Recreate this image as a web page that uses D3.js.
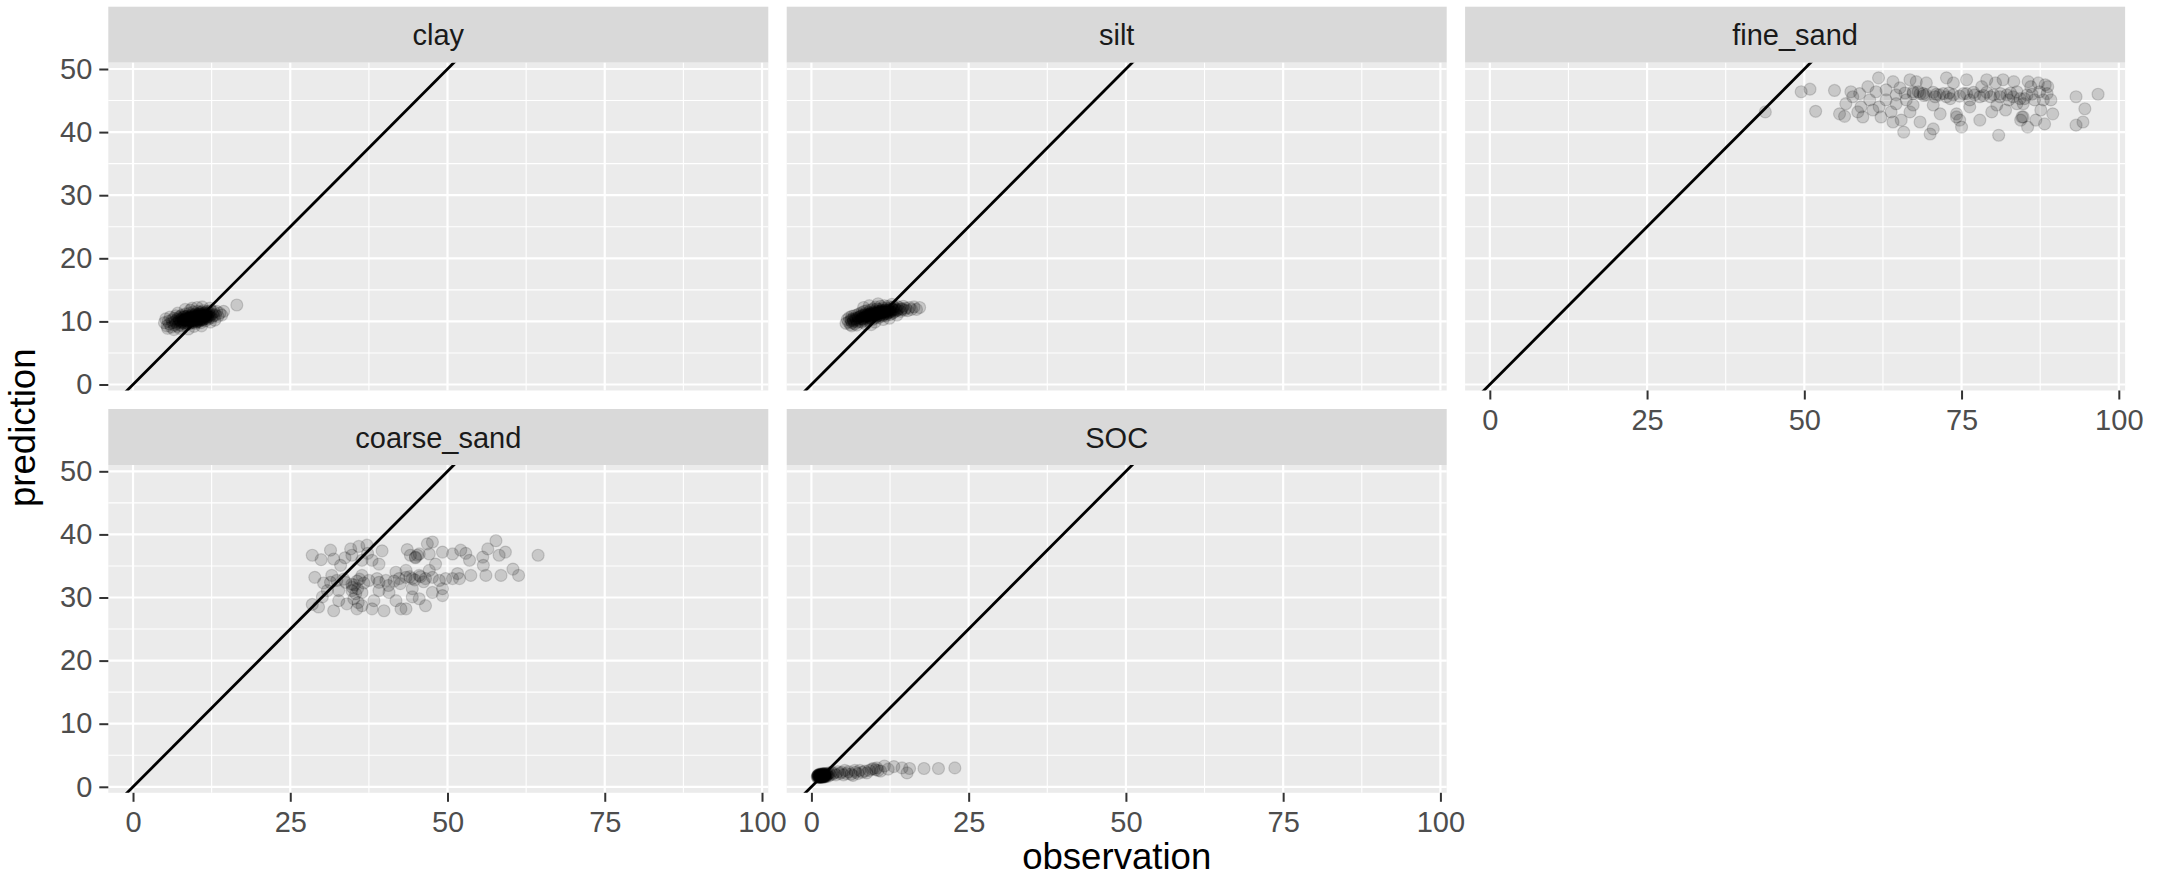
<!DOCTYPE html>
<html>
<head>
<meta charset="utf-8">
<script src="https://cdn.jsdelivr.net/npm/d3@7"></script>
<style>
  body { margin: 0; background: #fff; }
  svg { display: block; font-family: "Liberation Sans", Arial, sans-serif; }
</style>
</head>
<body>
<div id="chart"></div>
<script>
// facet order as in facet_wrap (3 columns)
const facets = ["clay", "silt", "fine_sand", "coarse_sand", "SOC"]

// [observation, prediction] pairs
const clay = [
  [5.0,9.8],[5.2,10.4],[5.4,9.3],[5.6,10.0],[5.8,9.6],[5.9,10.7],[6.1,9.1],[6.2,10.2],[6.3,9.8],[6.5,10.5],
  [6.6,9.4],[6.7,10.0],[6.8,10.9],[6.9,9.7],[7.0,10.3],[7.1,9.2],[7.2,9.9],[7.2,10.6],[7.3,10.1],[7.4,9.5],
  [7.5,10.8],[7.5,10.2],[7.6,9.8],[7.7,10.4],[7.8,9.3],[7.8,11.0],[7.9,10.0],[8.0,10.6],[8.0,9.7],[8.1,10.2],
  [8.2,9.9],[8.2,10.8],[8.3,10.4],[8.4,9.5],[8.4,11.2],[8.5,10.1],[8.5,10.6],[8.6,9.8],[8.7,10.3],[8.7,10.9],
  [8.8,9.6],[8.8,10.5],[8.9,10.0],[9.0,10.7],[9.0,11.3],[9.1,10.2],[9.1,9.7],[9.2,10.5],[9.3,10.9],[9.3,10.0],
  [9.4,10.4],[9.4,11.1],[9.5,9.8],[9.5,10.6],[9.6,10.2],[9.6,11.5],[9.7,10.8],[9.7,10.0],[9.8,10.4],[9.8,11.0],
  [9.9,9.7],[9.9,10.6],[10.0,10.2],[10.0,11.2],[10.1,10.8],[10.1,10.4],[10.2,9.9],[10.2,11.0],[10.3,10.5],[10.3,11.6],
  [10.4,10.2],[10.4,10.8],[10.5,11.2],[10.5,10.0],[10.6,10.6],[10.6,11.4],[10.7,10.3],[10.7,10.9],[10.8,11.1],[10.8,9.8],
  [10.9,10.6],[10.9,11.5],[11.0,10.2],[11.0,10.9],[11.1,11.3],[11.1,10.5],[11.2,10.8],[11.2,11.7],[11.3,10.4],[11.3,11.1],
  [11.4,10.7],[11.5,11.4],[11.5,10.1],[11.6,10.9],[11.7,11.2],[11.7,10.5],[11.8,11.6],[11.9,10.8],[12.0,11.1],[12.0,10.4],
  [12.1,11.4],[12.2,10.7],[12.3,11.0],[12.4,11.7],[12.5,10.6],[12.6,11.2],[12.8,10.9],[12.9,11.5],[13.1,11.0],[13.3,11.6],
  [13.5,10.8],[13.8,11.3],[14.1,11.0],[14.4,11.6],[16.5,12.6],[9.4,12.1],[8.3,11.9],[11.0,12.3],[10.2,12.2],[12.2,12.1],
  [7.4,8.9],[8.8,8.8],[6.5,8.7],[9.7,9.2],[10.9,9.3],[12.3,9.9],[7.1,11.3],[9.1,11.8],[5.5,8.9],[13.0,10.2],
  [7.3,10.4],[7.6,10.0],[7.9,10.7],[8.1,9.8],[8.3,10.2],[8.5,10.8],[8.6,10.4],[8.9,10.6],[9.0,9.9],[9.2,10.3],
  [9.3,10.7],[9.5,10.2],[9.6,10.9],[9.7,10.5],[9.9,10.1],[10.0,10.7],[10.1,10.0],[10.2,10.6],[10.3,10.2],[10.4,11.1],
  [10.5,10.5],[10.6,10.1],[10.7,10.8],[10.8,10.4],[10.9,11.1],[11.0,10.5],[11.1,10.9],[11.2,10.3],[11.3,10.8],[11.4,11.3],
  [11.6,10.6],[11.8,11.0],[12.0,10.8],[8.7,10.1],[9.4,10.0],[10.9,10.3],[8.0,10.3],[9.8,10.7],[10.2,10.4],[11.5,10.9]
]

const silt = [
  [5.5,9.7],[5.7,10.3],[5.9,9.9],[6.0,10.6],[6.2,9.5],[6.3,10.1],[6.4,10.8],[6.5,9.8],[6.6,10.4],[6.7,10.0],
  [6.8,10.9],[6.9,9.6],[7.0,10.5],[7.1,10.2],[7.2,11.0],[7.3,9.9],[7.4,10.6],[7.5,10.3],[7.6,11.2],[7.7,10.0],
  [7.8,10.8],[7.9,10.4],[8.0,11.4],[8.0,9.9],[8.1,10.7],[8.2,11.0],[8.3,10.3],[8.4,11.6],[8.4,10.6],[8.5,10.1],
  [8.6,11.2],[8.7,10.8],[8.8,10.4],[8.8,11.7],[8.9,11.0],[9.0,10.6],[9.1,11.4],[9.1,10.2],[9.2,10.9],[9.3,11.2],
  [9.4,10.5],[9.4,11.8],[9.5,11.0],[9.6,10.7],[9.6,11.5],[9.7,10.3],[9.8,11.1],[9.8,12.0],[9.9,10.8],[10.0,11.4],
  [10.0,10.5],[10.1,11.7],[10.2,11.0],[10.2,12.3],[10.3,10.7],[10.4,11.3],[10.4,12.0],[10.5,10.9],[10.6,11.6],[10.6,11.1],
  [10.7,10.6],[10.8,11.9],[10.8,11.3],[10.9,10.9],[11.0,11.6],[11.0,12.4],[11.1,11.1],[11.2,11.8],[11.2,10.8],[11.3,11.4],
  [11.4,12.1],[11.4,11.0],[11.5,11.6],[11.6,11.2],[11.6,12.5],[11.7,11.8],[11.8,10.9],[11.9,11.5],[12.0,12.1],[12.0,11.2],
  [12.1,11.7],[12.2,12.4],[12.3,11.4],[12.4,11.9],[12.5,11.1],[12.6,12.2],[12.7,11.6],[12.8,12.0],[12.9,11.3],[13.0,11.8],
  [13.1,12.3],[13.2,11.5],[13.4,12.0],[13.5,11.7],[13.6,12.4],[13.8,11.9],[14.0,12.2],[14.2,11.6],[14.4,12.0],[14.6,12.4],
  [14.8,11.8],[15.0,12.1],[15.3,11.7],[15.6,12.2],[15.9,11.9],[16.3,12.3],[16.7,11.9],[17.2,12.2],[9.2,12.5],[10.6,12.8],
  [8.3,12.2],[12.8,12.7],[7.2,9.4],[8.6,9.6],[6.4,9.3],[10.1,9.9],[11.4,10.3],[9.5,9.5],[13.6,11.0],[12.4,10.5],
  [7.5,10.6],[7.9,10.9],[8.2,10.5],[8.5,11.0],[8.8,10.7],[9.0,11.1],[9.2,10.6],[9.4,11.2],[9.7,10.9],[9.9,11.3],
  [10.1,11.0],[10.3,11.5],[10.5,11.2],[10.7,11.4],[10.9,11.6],[11.1,11.3],[11.3,11.7],[11.5,11.4],[11.7,11.5],[11.9,11.8],
  [12.1,11.4],[12.3,11.7],[12.6,11.6],[12.9,11.9],[13.2,11.8],[8.6,10.9],[9.3,11.0],[10.0,11.2],[10.6,11.3],[11.2,11.5],
  [11.8,11.2],[12.4,11.5],[9.6,11.3],[10.9,11.1],[8.1,10.4],[13.6,11.8],[7.1,10.4],[6.7,10.2],[6.3,10.3],[14.3,11.9]
]

const fineSand = [
  [43.8,43.2],[49.5,46.4],[50.9,46.8],[51.8,43.3],[54.8,46.6],[56.6,44.5],[57.4,46.4],[55.6,42.9],[56.4,42.5],[58.8,46.1],
  [58.5,43.2],[59.3,42.4],[60.1,47.2],[60.9,43.5],[61.4,46.4],[61.8,48.6],[62.2,42.4],[63.0,46.7],[63.8,43.2],[64.1,41.6],
  [64.6,45.9],[65.4,41.9],[65.8,40.0],[66.8,43.2],[66.8,48.3],[67.3,46.1],[67.8,48.0],[68.1,46.4],[68.4,41.6],[68.9,46.1],
  [69.4,47.8],[70.0,39.7],[70.5,40.5],[70.8,45.6],[71.6,42.9],[72.1,46.1],[72.6,48.6],[73.2,45.3],[73.7,47.8],[74.2,42.9],
  [74.7,41.9],[75.0,40.8],[75.3,46.1],[75.8,48.3],[76.3,45.1],[77.1,45.9],[77.9,41.9],[78.2,47.2],[79.0,48.3],[79.6,45.6],
  [79.8,43.2],[80.4,47.8],[80.9,39.5],[81.2,46.1],[82.0,43.5],[82.5,45.1],[83.3,48.0],[83.8,46.4],[84.4,41.9],[84.6,42.4],
  [85.0,45.3],[85.5,40.8],[86.0,47.2],[86.6,45.1],[86.8,41.9],[87.4,46.4],[87.6,43.5],[88.2,41.3],[88.7,47.2],[89.2,45.1],
  [89.5,42.9],[93.2,45.6],[94.6,43.7],[93.2,41.1],[94.3,41.6],[96.7,46.0],
  [67.3,46.4],[68.4,46.1],[69.4,45.9],[70.5,46.3],[71.5,45.9],[72.6,45.6],[73.7,45.9],[74.7,45.7],[75.8,46.1],[76.9,46.3],
  [77.9,45.6],[79.0,46.3],[80.1,45.9],[81.1,45.6],[82.2,45.9],[83.2,45.6],[84.3,45.3],[85.4,45.9],[84.8,44.5],[83.8,44.5],
  [84.8,42.4],[74.2,42.4],[64.6,44.5],[63.0,45.1],[61.9,44.0],[60.4,45.1],[59.0,44.0],[57.7,45.6],[66.2,45.1],[67.3,44.3],
  [70.5,44.3],[76.3,44.0],[80.6,44.3],[88.0,45.1],[88.6,46.1],[88.3,47.5],[87.2,47.8],[85.6,48.0],[81.6,48.3],[64.1,48.0],
  [65.2,47.0],[69.0,45.8],[71.0,46.0],[73.0,46.2],[78.5,45.8],[82.8,46.2],[86.2,46.0],[66.0,46.2]
]

const coarseSand = [
  [28.5,36.7],[29.9,36.0],[31.4,37.5],[31.9,36.1],[33.0,35.1],[34.6,37.7],[34.8,36.7],[35.9,38.1],[37.2,38.3],[36.4,35.9],
  [38.0,35.9],[39.1,35.3],[39.6,37.4],[43.6,37.6],[44.1,36.7],[44.9,36.4],[45.5,36.9],[46.8,38.5],[47.6,38.8],[47.1,36.9],
  [49.2,37.2],[50.8,36.9],[52.1,37.5],[52.9,37.0],[53.5,35.9],[55.6,36.4],[56.4,37.7],[57.7,39.0],[58.2,36.7],[59.2,37.2],
  [64.4,36.7],[55.7,35.1],[48.1,35.3],
  [28.9,33.2],[30.3,32.3],[31.4,32.4],[32.4,32.7],[33.8,32.4],[34.8,32.1],[35.6,32.6],[36.7,32.3],[37.5,32.7],[39.1,32.4],
  [40.2,32.7],[41.5,32.6],[42.3,33.0],[43.4,33.2],[44.4,33.0],[45.5,33.5],[46.5,33.0],[47.6,33.2],[48.7,32.7],[49.7,33.0],
  [50.8,33.0],[51.9,33.0],[53.7,33.5],[56.1,33.5],[58.5,33.5],[60.4,34.5],[61.3,33.5],[41.8,34.0],[43.4,34.3],[47.1,34.3],
  [51.6,33.8],[36.4,33.5],[31.6,33.5],
  [28.5,28.9],[29.5,28.5],[30.1,30.1],[31.9,27.9],[32.7,29.5],[34.0,29.0],[35.1,29.8],[35.6,28.2],[36.4,28.7],[38.0,28.2],
  [38.3,29.5],[39.9,27.9],[41.8,29.5],[42.6,28.2],[43.4,28.2],[44.4,30.1],[45.5,29.8],[46.5,28.7],[47.6,30.8],[49.2,30.3],
  [49.2,31.4],[34.8,31.1],[36.4,30.8],[32.7,31.1],[39.1,31.1],[40.7,30.8],[44.4,31.4],[30.9,31.1],
  [35.2,32.0],[34.9,31.6],[35.7,31.4],[44.0,33.3],[44.8,32.8],[45.7,33.3],[44.9,36.3],[45.2,36.7],[33.5,32.9],[36.0,32.9],
  [35.4,30.6],[35.8,29.2],[42.5,32.2],[46.2,32.5],[38.8,33.0],[40.6,31.9],[37.3,37.0],[33.7,36.3]
]

const soc = [
  [0.9,1.6],[1.0,1.8],[1.0,1.5],[1.1,1.7],[1.1,1.9],[1.2,1.6],[1.2,1.8],[1.2,1.5],[1.3,1.7],[1.3,2.0],
  [1.3,1.6],[1.4,1.8],[1.4,1.5],[1.4,1.9],[1.5,1.7],[1.5,1.6],[1.5,2.0],[1.6,1.8],[1.6,1.5],[1.6,1.7],
  [1.7,1.9],[1.7,1.6],[1.7,1.8],[1.8,1.7],[1.8,2.0],[1.8,1.5],[1.9,1.8],[1.9,1.6],[1.9,1.9],[2.0,1.7],
  [2.0,2.0],[2.0,1.6],[2.1,1.8],[2.1,1.9],[2.2,1.7],[2.2,2.0],[2.3,1.8],[2.3,1.6],[2.4,1.9],[2.5,1.8],
  [1.0,1.7],[1.1,1.6],[1.2,1.9],[1.3,1.8],[1.4,1.7],[1.5,1.9],[1.6,1.6],[1.7,1.7],[1.8,1.9],[1.9,1.7],
  [2.0,1.8],[2.1,1.6],[2.2,1.9],[1.1,1.8],[1.3,1.5],[1.5,1.8],[1.7,2.0],[1.9,2.1],[2.1,2.1],[2.4,2.1],
  [2.6,2.0],[2.7,1.7],[2.8,2.2],[3.0,1.9],[3.2,2.3],[3.4,2.0],[3.6,2.2],[3.9,1.9],[4.2,2.4],[4.5,2.1],
  [4.8,2.3],[5.1,1.9],[5.6,2.1],[5.9,2.4],[6.3,2.0],[6.6,1.8],[7.0,2.3],[7.4,2.1],[7.7,2.6],[8.1,2.3],
  [8.5,2.5],[8.8,2.2],[9.2,2.6],[9.6,2.8],[9.9,2.9],[10.2,2.7],[10.6,2.6],[10.4,3.0],[11.0,2.5],[11.6,3.3],
  [12.2,2.8],[13.1,3.2],[14.4,3.0],[15.2,2.2],[15.6,2.9],[17.9,2.9],[20.2,2.9],[22.8,3.0],[6.9,2.6],[5.3,2.6]
]

const facetData = [clay, silt, fineSand, coarseSand, soc]

const xTicks = [0, 25, 50, 75, 100]
const yTicks = [0, 10, 20, 30, 40, 50]
const xMinor = [12.5, 37.5, 62.5, 87.5]
const yMinor = [5, 15, 25, 35, 45]
const xDomain = [-3.93, 101.0]
const yDomain = [-0.95, 51.0]

// layout
const W = 2171, H = 878
const panelW = 660, panelH = 327.8, stripH = 56
const colLeft = [108.3, 786.7, 1465.1]
const rowTop = [62.7, 465]
const nCol = 3

const x = d3.scaleLinear().domain(xDomain).range([0, panelW])
const y = d3.scaleLinear().domain(yDomain).range([panelH, 0])

const svg = d3.select("#chart").append("svg")
    .attr("width", W)
    .attr("height", H)

svg.append("rect").attr("width", W).attr("height", H).attr("fill", "#fff")

facets.forEach((name, i) => {
    const row = Math.floor(i / nCol)
    const col = i % nCol
    const data = facetData[i]

    const g = svg.append("g")
        .attr("transform", `translate(${colLeft[col]},${rowTop[row]})`)

    // strip
    g.append("rect")
        .attr("y", -stripH)
        .attr("width", panelW)
        .attr("height", stripH)
        .attr("fill", "#D9D9D9")
    g.append("text")
        .attr("x", panelW / 2)
        .attr("y", -stripH / 2 + 10.5)
        .attr("text-anchor", "middle")
        .attr("font-size", 29)
        .attr("fill", "#1A1A1A")
        .text(name)

    // panel background + grid
    g.append("rect")
        .attr("width", panelW)
        .attr("height", panelH)
        .attr("fill", "#EBEBEB")

    g.selectAll(".xminor").data(xMinor).enter().append("line")
        .attr("x1", d => x(d)).attr("x2", d => x(d))
        .attr("y1", 0).attr("y2", panelH)
        .attr("stroke", "#fff").attr("stroke-width", 1.1)
    g.selectAll(".yminor").data(yMinor).enter().append("line")
        .attr("y1", d => y(d)).attr("y2", d => y(d))
        .attr("x1", 0).attr("x2", panelW)
        .attr("stroke", "#fff").attr("stroke-width", 1.1)
    g.selectAll(".xmajor").data(xTicks).enter().append("line")
        .attr("x1", d => x(d)).attr("x2", d => x(d))
        .attr("y1", 0).attr("y2", panelH)
        .attr("stroke", "#fff").attr("stroke-width", 2.2)
    g.selectAll(".ymajor").data(yTicks).enter().append("line")
        .attr("y1", d => y(d)).attr("y2", d => y(d))
        .attr("x1", 0).attr("x2", panelW)
        .attr("stroke", "#fff").attr("stroke-width", 2.2)

    const clipId = "clip" + i
    g.append("clipPath").attr("id", clipId)
        .append("rect").attr("width", panelW).attr("height", panelH)

    const inner = g.append("g").attr("clip-path", `url(#${clipId})`)

    // points
    inner.selectAll("circle").data(data).enter().append("circle")
        .attr("cx", d => x(d[0]))
        .attr("cy", d => y(d[1]))
        .attr("r", 6)
        .attr("fill", "#000")
        .attr("fill-opacity", 0.15)
        .attr("stroke", "#000")
        .attr("stroke-opacity", 0.15)
        .attr("stroke-width", 1.2)

    // 1:1 line
    inner.append("line")
        .attr("x1", x(-10)).attr("y1", y(-10))
        .attr("x2", x(110)).attr("y2", y(110))
        .attr("stroke", "#000")
        .attr("stroke-width", 2.8)

    // axes
    if (col === 0) {
        const ax = g.append("g")
            .call(d3.axisLeft(y).tickValues(yTicks).tickSize(9).tickPadding(7))
        styleAxis(ax)
    }
    const isBottom = row === 1 || (row === 0 && i + nCol >= facets.length)
    if (isBottom) {
        const ax = g.append("g")
            .attr("transform", `translate(0,${panelH})`)
            .call(d3.axisBottom(x).tickValues(xTicks).tickSize(9).tickPadding(10))
        styleAxis(ax)
    }
})

function styleAxis(ax) {
    ax.select(".domain").remove()
    ax.attr("font-family", null).attr("font-size", null)
    ax.selectAll(".tick line").attr("stroke", "#333333").attr("stroke-width", 2)
    ax.selectAll(".tick text")
        .attr("fill", "#4D4D4D")
        .attr("font-size", 29)
}

// axis titles
svg.append("text")
    .attr("x", (colLeft[0] + colLeft[2] + panelW) / 2)
    .attr("y", 869)
    .attr("text-anchor", "middle")
    .attr("font-size", 36.6)
    .attr("fill", "#000")
    .text("observation")

svg.append("text")
    .attr("transform", `translate(35,${(rowTop[0] + rowTop[1] + panelH) / 2}) rotate(-90)`)
    .attr("text-anchor", "middle")
    .attr("font-size", 36.6)
    .attr("fill", "#000")
    .text("prediction")
</script>
</body>
</html>
